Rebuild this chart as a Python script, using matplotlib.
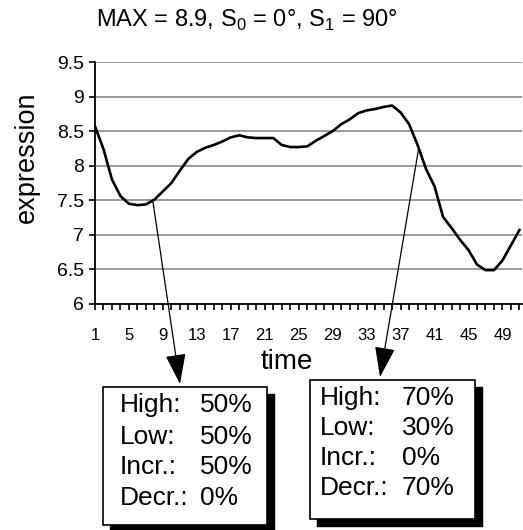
import matplotlib
matplotlib.use("Agg")
import matplotlib.pyplot as plt
from matplotlib.patches import Rectangle

plt.rcParams['font.family'] = ['Liberation Sans', 'DejaVu Sans']
plt.rcParams['mathtext.fontset'] = 'custom'
plt.rcParams['mathtext.rm'] = 'Liberation Sans'

# data
time = list(range(1, 52))
expression = [8.57, 8.24, 7.80, 7.56, 7.45, 7.43, 7.44, 7.51, 7.63, 7.75,
              7.93, 8.10, 8.20, 8.26, 8.30, 8.35, 8.41, 8.44, 8.41, 8.40,
              8.40, 8.40, 8.30, 8.27, 8.27, 8.28, 8.36, 8.43, 8.50, 8.60,
              8.67, 8.76, 8.80, 8.82, 8.85, 8.87, 8.77, 8.60, 8.30, 7.95,
              7.70, 7.26, 7.10, 6.93, 6.78, 6.57, 6.49, 6.49, 6.63, 6.85,
              7.07]
y_ticks = [6, 6.5, 7, 7.5, 8, 8.5, 9, 9.5]
x_labels = [1, 5, 9, 13, 17, 21, 25, 29, 33, 37, 41, 45, 49]

box_labels = ["High:", "Low:", "Incr.:", "Decr.:"]
box1_values = ["50%", "50%", "50%", "0%"]
box2_values = ["70%", "30%", "0%", "70%"]
arrow_points = [(7.8, 7.5), (39.1, 8.23)]

W, H = 523, 530
fig = plt.figure(figsize=(W / 100, H / 100), dpi=100)
ax = fig.add_axes([95 / W, 1 - 304 / H, 427 / W, 242 / H])

ax.plot(time, expression, color='black', lw=1.9)
ax.set_xlim(1, 51.3)
ax.set_ylim(6, 9.5)
ax.set_yticks(y_ticks)
ax.set_yticklabels(["6", "6.5", "7", "7.5", "8", "8.5", "9", "9.5"], fontsize=14)
ax.set_xticks(x_labels)
ax.set_xticklabels([str(v) for v in x_labels], fontsize=12)
ax.set_xticks(time, minor=True)
ax.grid(axis='y', color='#888888', lw=1.2)
ax.set_axisbelow(True)
for s in ['top', 'right']:
    ax.spines[s].set_visible(False)
ax.spines['left'].set_linewidth(1.3)
ax.spines['bottom'].set_linewidth(1.3)
ax.tick_params(axis='y', length=4, width=1.2, pad=4)
ax.tick_params(axis='x', which='both', length=4, width=1.2, pad=13)

# axis titles placed where the reference has them
ax.text((287 - 95) / 427, (304 - 362) / 242, "time", fontsize=20,
        ha='center', va='center', transform=ax.transAxes)
ax.text((27 - 95) / 427, (304 - 157) / 242, "expression", fontsize=19.5,
        rotation=90, ha='center', va='center', transform=ax.transAxes)

fig.text(247 / W, 1 - 20 / H,
         r'MAX = 8.9, S$_\mathregular{0}$ = 0°, S$_\mathregular{1}$ = 90°',
         fontsize=17, ha='center', va='center')


def px(x, y):
    return (x / W, 1 - y / H)


tips = [px(180, 384), px(380, 377)]
for p, t in zip(arrow_points, tips):
    ax.annotate('', xy=t, xycoords='figure fraction', xytext=p, textcoords='data',
                annotation_clip=False,
                arrowprops=dict(arrowstyle='-|>,head_length=0.95,head_width=0.32',
                                mutation_scale=20, color='black', lw=0.9,
                                shrinkA=0, shrinkB=0))

# boxes: left, top, right, bottom in pixels
boxes = [(103, 387, 267, 525, box1_values, 120, 200, [405, 437, 467, 498]),
         (310, 380, 475, 519, box2_values, 320, 402, [398, 428, 458, 488])]
for l, t, r, b, vals, xl, xv, ys in boxes:
    fig.patches.append(Rectangle(px(l + 7, b + 7), (r - l) / W, (b - t) / H,
                                 transform=fig.transFigure, color='black', zorder=1))
    fig.patches.append(Rectangle(px(l, b), (r - l) / W, (b - t) / H,
                                 transform=fig.transFigure, facecolor='white',
                                 edgecolor='black', lw=1.2, zorder=2))
    for lab, v, yy in zip(box_labels, vals, ys):
        fig.text(*px(xl, yy), lab, fontsize=19, va='center', zorder=3)
        fig.text(*px(xv, yy), v, fontsize=19, va='center', zorder=3)

fig.savefig("out.png", dpi=100)
